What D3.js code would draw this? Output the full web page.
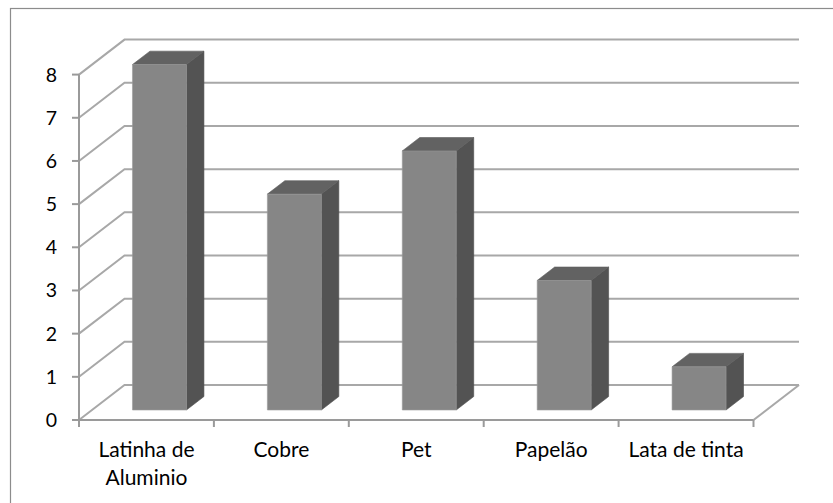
<!DOCTYPE html>
<html>
<head>
<meta charset="utf-8">
<script src="https://cdn.jsdelivr.net/npm/d3@7/dist/d3.min.js"></script>
<style>
  html, body { margin: 0; padding: 0; background: #ffffff; }
  svg { display: block; }
  text { font-family: Lato, "Open Sans", sans-serif; fill: #000; }
</style>
</head>
<body>
<svg id="chart" width="833" height="503"></svg>
<script>
// Material collected (units)
const categories = ["Latinha de Aluminio", "Cobre", "Pet", "Papelão", "Lata de tinta"];
const values = [8, 5, 6, 3, 1];
const yTicks = [0, 1, 2, 3, 4, 5, 6, 7, 8];

const svg = d3.select("#chart");
const W = 833, H = 503;

// Outer chart frame (runs past the right and bottom edges)
svg.append("rect")
  .attr("x", 10.5).attr("y", 8.5)
  .attr("width", W + 20).attr("height", H + 20)
  .attr("fill", "#fff").attr("stroke", "#8c8c8c").attr("stroke-width", 1.2);

// Front plane of the plot and depth projection
const front = { left: 79, right: 753.5, bottom: 420, top: 74.6 };
const depth = { dx: 45.5, dy: -35 };       // full depth of the floor / walls
const proj = (x, y, d) => [x + depth.dx * d, y + depth.dy * d];

const x = d3.scaleBand().domain(categories).range([front.left, front.right]).paddingInner(0).paddingOuter(0);
const y = d3.scaleLinear().domain([0, 8]).range([front.bottom, front.top]);

const gridColor = "#a8a8a8";
const grid = svg.append("g").attr("fill", "none").attr("stroke", gridColor).attr("stroke-width", 2);
const backRight = 799;

// Back wall gridlines with the slanted side-wall segment
yTicks.forEach(t => {
  const p0 = [front.left, y(t)];
  const p1 = proj(front.left, y(t), 1);
  grid.append("path").attr("d", d3.line()([p0, p1, [backRight, p1[1]]]));
});

// Floor edge on the right
const floorBack = proj(front.left, y(0), 1);
grid.append("path").attr("d", d3.line()([[backRight, floorBack[1]], [front.right, front.bottom]]));

// Front axes
const axisColor = "#9a9a9a";
const axes = svg.append("g").attr("fill", "none").attr("stroke", axisColor).attr("stroke-width", 2);
axes.append("path").attr("d", d3.line()([[front.left, y(8)], [front.left, front.bottom], [front.right, front.bottom]]));

// Value axis ticks
yTicks.forEach(t => {
  axes.append("line").attr("x1", front.left - 7).attr("x2", front.left).attr("y1", y(t)).attr("y2", y(t));
});
// Category axis ticks at band boundaries
const bounds = categories.map(c => x(c)).concat([front.right]);
bounds.forEach(bx => {
  axes.append("line").attr("x1", bx).attr("x2", bx).attr("y1", front.bottom).attr("y2", front.bottom + 7);
});

// 3D columns
const barFrontD = 0.286, barBackD = 0.67;
const barW = x.bandwidth() * 0.4;
const bars = svg.append("g");
categories.forEach((c, i) => {
  const v = values[i];
  const cx = x(c) + x.bandwidth() / 2;
  const [fx, fyBase] = proj(cx - barW / 2, y(0), barFrontD);
  const fyTop = proj(0, y(v), barFrontD)[1];
  const bdx = depth.dx * (barBackD - barFrontD);
  const bdy = depth.dy * (barBackD - barFrontD);
  const g = bars.append("g").attr("stroke-linejoin", "round");
  // right side
  g.append("path").attr("fill", "#535353").attr("stroke", "#4e4e4e").attr("stroke-width", 0.6)
    .attr("d", d3.line()([[fx + barW, fyTop], [fx + barW + bdx, fyTop + bdy], [fx + barW + bdx, fyBase + bdy], [fx + barW, fyBase]]) + "Z");
  // top
  g.append("path").attr("fill", "#626262").attr("stroke", "#5c5c5c").attr("stroke-width", 0.6)
    .attr("d", d3.line()([[fx, fyTop], [fx + bdx, fyTop + bdy], [fx + barW + bdx, fyTop + bdy], [fx + barW, fyTop]]) + "Z");
  // front
  g.append("rect").attr("x", fx).attr("y", fyTop).attr("width", barW).attr("height", fyBase - fyTop)
    .attr("fill", "#868686").attr("stroke", "#9a9a9a").attr("stroke-width", 0.6);
});

// Value axis labels
svg.append("g").selectAll("text").data(yTicks).join("text")
  .attr("x", 57).attr("y", d => y(d)).attr("dy", "0.36em")
  .attr("text-anchor", "end").attr("font-size", 19.5)
  .text(d => d);

// Category labels, wrapped to the band width
const labels = svg.append("g");
const labelSize = 21;
categories.forEach(c => {
  const cx = x(c) + x.bandwidth() / 2;
  const t = labels.append("text").attr("text-anchor", "middle").attr("font-size", labelSize);
  const words = c.split(" ");
  const lines = [];
  let cur = [];
  const probe = labels.append("text").attr("font-size", labelSize);
  words.forEach(w => {
    const test = cur.concat([w]).join(" ");
    probe.text(test);
    if (probe.node().getComputedTextLength() > x.bandwidth() * 0.95 && cur.length) {
      lines.push(cur.join(" "));
      cur = [w];
    } else cur.push(w);
  });
  lines.push(cur.join(" "));
  probe.remove();
  lines.forEach((ln, k) => {
    t.append("tspan").attr("x", cx).attr("y", 457 + k * 28).text(ln);
  });
});
</script>
</body>
</html>
